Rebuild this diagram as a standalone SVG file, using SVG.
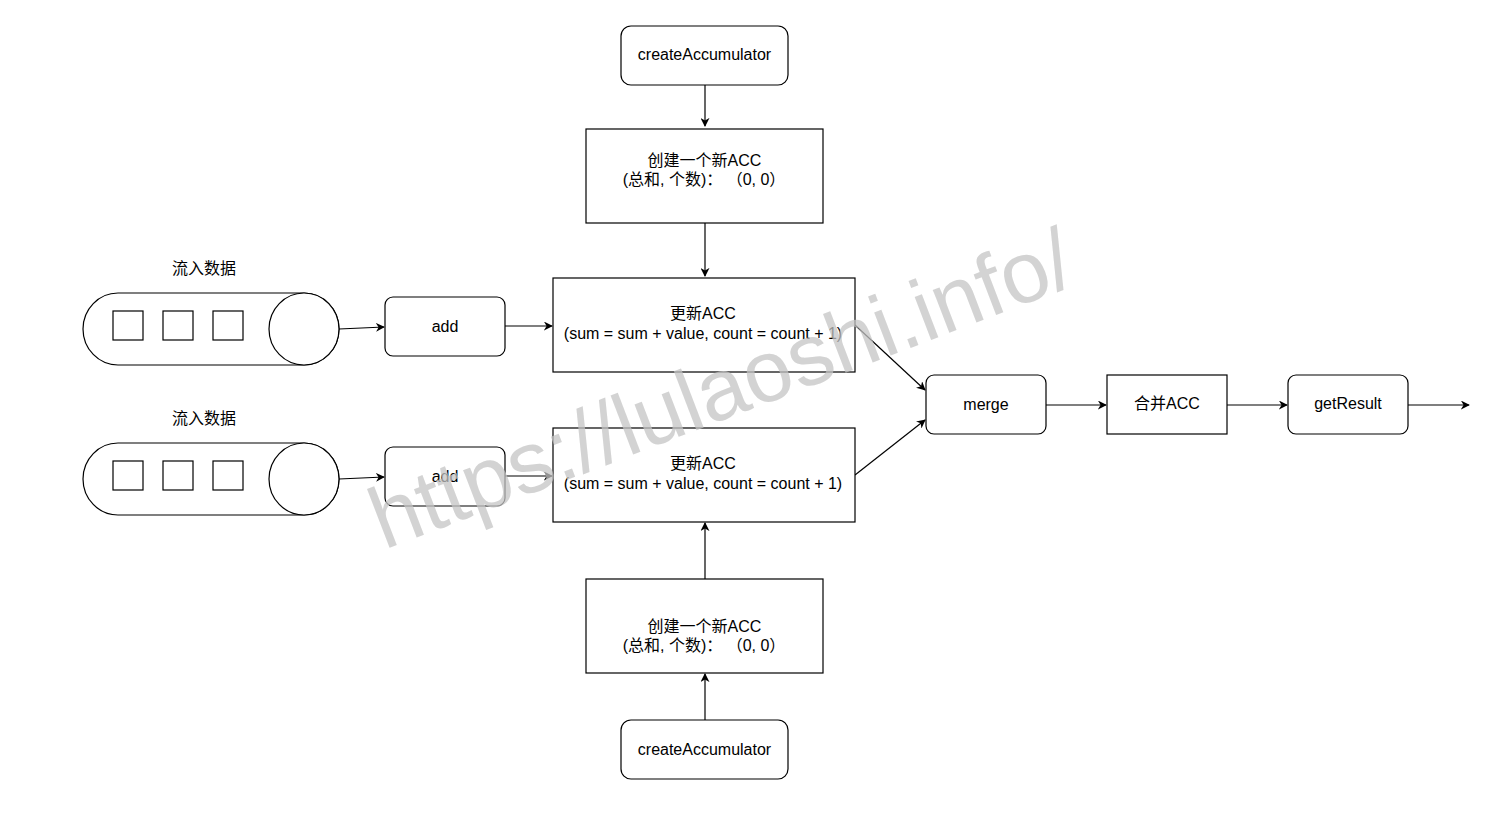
<svg xmlns="http://www.w3.org/2000/svg" width="1500" height="836" viewBox="0 0 1500 836">
<style>
.n{fill:#fff;stroke:#000;stroke-width:1.2}
.t{font-family:"Liberation Sans","Noto Sans CJK SC",sans-serif;font-size:16px;fill:#000;text-anchor:middle}
.c{fill:none;stroke:#000;stroke-width:1.2}
.wm{font-family:"Liberation Sans",Arial,sans-serif;font-size:87px;fill:#c4c4c4;fill-opacity:0.75}
</style>
<defs>
<marker id="ah" viewBox="0 0 10 10" refX="9" refY="5" markerWidth="9" markerHeight="9" markerUnits="userSpaceOnUse" orient="auto">
<path d="M0,0 L10,5 L0,10 L3,5 Z" fill="#000"/>
</marker>
</defs>
<rect width="1500" height="836" fill="#fff"/>

<g id="connectors">
<path class="c" d="M705,85 V126" marker-end="url(#ah)"/>
<path class="c" d="M705,223 V276" marker-end="url(#ah)"/>
<path class="c" d="M339,329 L384,327" marker-end="url(#ah)"/>
<path class="c" d="M505,326 H552" marker-end="url(#ah)"/>
<path class="c" d="M339,479 L384,477" marker-end="url(#ah)"/>
<path class="c" d="M505,476 H552" marker-end="url(#ah)"/>
<path class="c" d="M705,579 V523" marker-end="url(#ah)"/>
<path class="c" d="M705,720 V674" marker-end="url(#ah)"/>
<path class="c" d="M855,325 L925,390" marker-end="url(#ah)"/>
<path class="c" d="M855,475 L925,420" marker-end="url(#ah)"/>
<path class="c" d="M1046,405 H1106" marker-end="url(#ah)"/>
<path class="c" d="M1227,405 H1287" marker-end="url(#ah)"/>
<path class="c" d="M1408,405 H1469" marker-end="url(#ah)"/>
</g>

<g id="createAcc1"><rect class="n" x="621" y="26" width="167" height="59" rx="10"/><text class="t" x="704.5" y="60">createAccumulator</text></g>
<g id="newAcc1"><rect class="n" x="586" y="129" width="237" height="94"/><text class="t" x="704.5" y="166">创建一个新ACC</text><text class="t" x="704" y="185">(总和, 个数)： （0, 0）</text></g>
<g id="update1"><rect class="n" x="553" y="278" width="302" height="94"/><text class="t" x="703" y="319">更新ACC</text><text class="t" x="703" y="339">(sum = sum + value, count = count + 1)</text></g>
<g id="add1"><rect class="n" x="385" y="297" width="120" height="59" rx="8"/><text class="t" x="445" y="332">add</text></g>
<g id="stream1">
<text class="t" x="204" y="274">流入数据</text>
<path class="n" d="M118,293 H304 A35,36 0 0 1 304,365 H118 A35,36 0 0 1 118,293 Z"/>
<ellipse class="n" cx="304" cy="329" rx="35" ry="36"/>
<rect class="n" x="113" y="311" width="30" height="29"/>
<rect class="n" x="163" y="311" width="30" height="29"/>
<rect class="n" x="213" y="311" width="30" height="29"/>
</g>

<g id="stream2">
<text class="t" x="204" y="424">流入数据</text>
<path class="n" d="M118,443 H304 A35,36 0 0 1 304,515 H118 A35,36 0 0 1 118,443 Z"/>
<ellipse class="n" cx="304" cy="479" rx="35" ry="36"/>
<rect class="n" x="113" y="461" width="30" height="29"/>
<rect class="n" x="163" y="461" width="30" height="29"/>
<rect class="n" x="213" y="461" width="30" height="29"/>
</g>
<g id="add2"><rect class="n" x="385" y="447" width="120" height="59" rx="8"/><text class="t" x="445" y="482">add</text></g>
<g id="update2"><rect class="n" x="553" y="428" width="302" height="94"/><text class="t" x="703" y="469">更新ACC</text><text class="t" x="703" y="489">(sum = sum + value, count = count + 1)</text></g>
<g id="newAcc2"><rect class="n" x="586" y="579" width="237" height="94"/><text class="t" x="704.5" y="632">创建一个新ACC</text><text class="t" x="704" y="651">(总和, 个数)： （0, 0）</text></g>
<g id="createAcc2"><rect class="n" x="621" y="720" width="167" height="59" rx="10"/><text class="t" x="704.5" y="755">createAccumulator</text></g>

<g id="merge"><rect class="n" x="926" y="375" width="120" height="59" rx="8"/><text class="t" x="986" y="410">merge</text></g>
<g id="combine"><rect class="n" x="1107" y="375" width="120" height="59"/><text class="t" x="1167" y="409">合并ACC</text></g>
<g id="getResult"><rect class="n" x="1288" y="375" width="120" height="59" rx="8"/><text class="t" x="1348" y="409">getResult</text></g>

<text class="wm" transform="translate(384,550) rotate(-21)">https://lulaoshi.info/</text>
</svg>
